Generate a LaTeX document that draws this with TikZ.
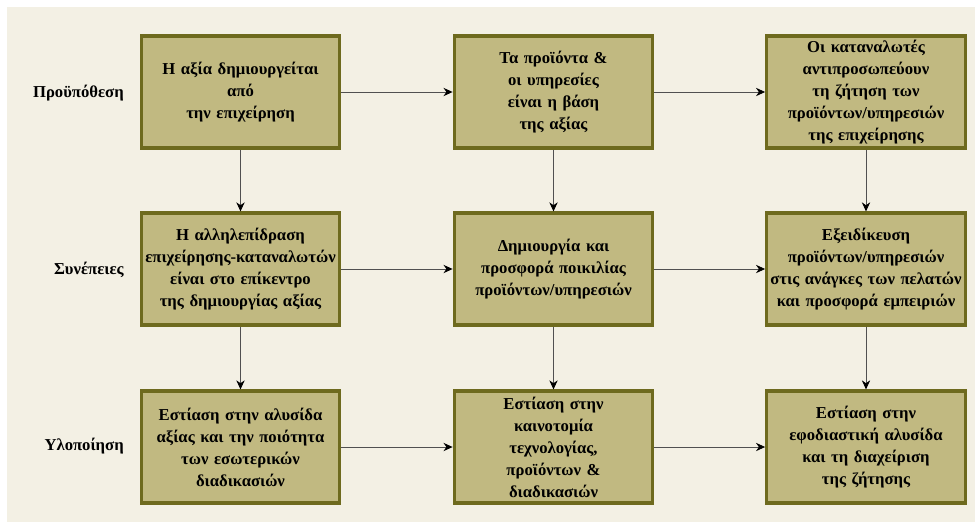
\documentclass[tikz,border=0pt]{standalone}
\usepackage{fontspec}
\setmainfont{Liberation Serif}
\usepackage{xcolor}
\usepackage{tikz}
\usetikzlibrary{arrows.meta, positioning}
\definecolor{paper}{HTML}{F3F0E4}
\definecolor{khaki}{HTML}{C1B981}
\definecolor{olive}{HTML}{6E6A1E}
\definecolor{wire}{HTML}{505050}

\begin{document}
\begin{tikzpicture}[x=0.75pt, y=-0.75pt,
    stage/.style={draw=olive, line width=2.4pt, fill=khaki, minimum width=149pt, minimum height=84pt, text width=146pt, align=center, inner sep=0pt, font=\fontsize{12.5}{16.5}\selectfont\bfseries},
    rowlabel/.style={anchor=east, inner sep=0pt, font=\fontsize{12.5}{15}\selectfont\bfseries},
    arrow/.style={-{Stealth[length=2.4mm, width=2.2mm, color=black]}, draw=wire, line width=0.6pt}
]

\useasboundingbox (0,0) rectangle (975,522);
\fill[paper] (7,7) rectangle (975,522);

\node[rowlabel] (lpre) at (124,93) {Προϋπόθεση};
\node[rowlabel] (lcon) at (124,270) {Συνέπειες};
\node[rowlabel] (limp) at (124,446) {Υλοποίηση};

\node[stage] (pre1) at (240.5,92) {Η αξία δημιουργείται\\από\\την επιχείρηση};
\node[stage] (pre2) at (553.5,92) {Τα προϊόντα \&\\οι υπηρεσίες\\είναι η βάση\\της αξίας};
\node[stage] (pre3) at (866,92) {Οι καταναλωτές\\αντιπροσωπεύουν\\τη ζήτηση των\\προϊόντων/υπηρεσιών\\της επιχείρησης};

\node[stage] (con1) at (240.5,269) {Η αλληλεπίδραση\\επιχείρησης-καταναλωτών\\είναι στο επίκεντρο\\της δημιουργίας αξίας};
\node[stage] (con2) at (553.5,269) {Δημιουργία και\\προσφορά ποικιλίας\\προϊόντων/υπηρεσιών};
\node[stage] (con3) at (866,269) {Εξειδίκευση\\προϊόντων/υπηρεσιών\\στις ανάγκες των πελατών\\και προσφορά εμπειριών};

\node[stage] (imp1) at (240.5,447) {Εστίαση στην αλυσίδα\\αξίας και την ποιότητα\\των εσωτερικών\\διαδικασιών};
\node[stage] (imp2) at (553.5,447) {Εστίαση στην\\καινοτομία\\τεχνολογίας,\\προϊόντων \&\\διαδικασιών};
\node[stage] (imp3) at (866,447) {Εστίαση στην\\εφοδιαστική αλυσίδα\\και τη διαχείριση\\της ζήτησης};

% across each row
\draw[arrow] (pre1) -- (pre2);
\draw[arrow] (pre2) -- (pre3);
\draw[arrow] (con1) -- (con2);
\draw[arrow] (con2) -- (con3);
\draw[arrow] (imp1) -- (imp2);
\draw[arrow] (imp2) -- (imp3);

% down each column
\draw[arrow] (pre1) -- (con1);
\draw[arrow] (pre2) -- (con2);
\draw[arrow] (pre3) -- (con3);
\draw[arrow] (con1) -- (imp1);
\draw[arrow] (con2) -- (imp2);
\draw[arrow] (con3) -- (imp3);

\end{tikzpicture}
\end{document}
